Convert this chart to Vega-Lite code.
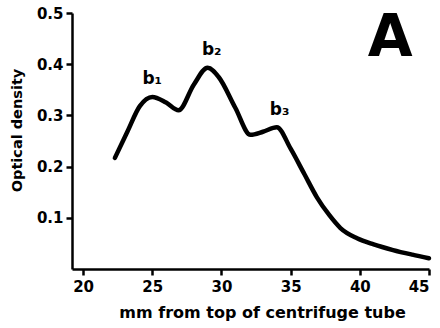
{
  "$schema": "https://vega.github.io/schema/vega-lite/v6.json",
  "width": 357,
  "height": 256,
  "autosize": "none",
  "padding": {"left": 72, "top": 13, "right": 11, "bottom": 59},
  "background": "white",
  "config": {
    "view": {"stroke": null},
    "font": "DejaVu Sans",
    "axis": {
      "grid": false,
      "domainColor": "black",
      "domainWidth": 2.5,
      "tickColor": "black",
      "tickWidth": 2.5,
      "tickSize": 6,
      "labelColor": "black",
      "labelFont": "DejaVu Sans",
      "labelFontWeight": "bold",
      "labelFontSize": 15,
      "titleColor": "black",
      "titleFont": "DejaVu Sans",
      "titleFontWeight": "bold",
      "titleFontSize": 14.5
    }
  },
  "datasets": {
    "curve": [
      {"mm": 22.3, "od": 0.217},
      {"mm": 23.2, "od": 0.268},
      {"mm": 24.1, "od": 0.318},
      {"mm": 25.0, "od": 0.336},
      {"mm": 26.0, "od": 0.325},
      {"mm": 26.9, "od": 0.31},
      {"mm": 28.0, "od": 0.36},
      {"mm": 29.0, "od": 0.393},
      {"mm": 29.8, "od": 0.375},
      {"mm": 31.0, "od": 0.315},
      {"mm": 32.1, "od": 0.262},
      {"mm": 33.0, "od": 0.268},
      {"mm": 34.0, "od": 0.277},
      {"mm": 35.0, "od": 0.235},
      {"mm": 36.0, "od": 0.185},
      {"mm": 36.9, "od": 0.14},
      {"mm": 37.8, "od": 0.105},
      {"mm": 38.6, "od": 0.08},
      {"mm": 39.8, "od": 0.06},
      {"mm": 41.0, "od": 0.048},
      {"mm": 42.4, "od": 0.037},
      {"mm": 43.8, "od": 0.028},
      {"mm": 45.0, "od": 0.021}
    ],
    "labels": [
      {"mm": 25.0, "od": 0.372, "label": "b₁"},
      {"mm": 29.3, "od": 0.427, "label": "b₂"},
      {"mm": 34.2, "od": 0.31, "label": "b₃"}
    ],
    "panel": [
      {"mm": 42.2, "od": 0.45, "label": "A"}
    ]
  },
  "layer": [
    {
      "data": {"name": "curve"},
      "mark": {"type": "line", "color": "black", "strokeWidth": 4.5, "interpolate": "monotone", "strokeCap": "round", "strokeJoin": "round"},
      "encoding": {
        "x": {
          "field": "mm", "type": "quantitative",
          "scale": {"domain": [19.2, 45], "nice": false, "zero": false},
          "axis": {"values": [20, 25, 30, 35, 40, 45], "title": "mm from top of centrifuge tube", "titleFontSize": 16, "titleX": 190, "labelPadding": 4, "titlePadding": 10}
        },
        "y": {
          "field": "od", "type": "quantitative",
          "scale": {"domain": [0, 0.5], "nice": false},
          "axis": {"values": [0.1, 0.2, 0.3, 0.4, 0.5], "format": ".1f", "title": "Optical density", "labelPadding": 3, "titlePadding": 12, "titleY": 117}
        }
      }
    },
    {
      "data": {"name": "labels"},
      "mark": {"type": "text", "color": "black", "font": "DejaVu Sans", "fontWeight": "bold", "fontSize": 17, "baseline": "middle", "align": "center"},
      "encoding": {
        "x": {"field": "mm", "type": "quantitative"},
        "y": {"field": "od", "type": "quantitative"},
        "text": {"field": "label"}
      }
    },
    {
      "data": {"name": "panel"},
      "mark": {"type": "text", "color": "black", "font": "DejaVu Sans", "fontWeight": "bold", "fontSize": 58, "baseline": "middle", "align": "center"},
      "encoding": {
        "x": {"field": "mm", "type": "quantitative"},
        "y": {"field": "od", "type": "quantitative"},
        "text": {"field": "label"}
      }
    }
  ]
}
